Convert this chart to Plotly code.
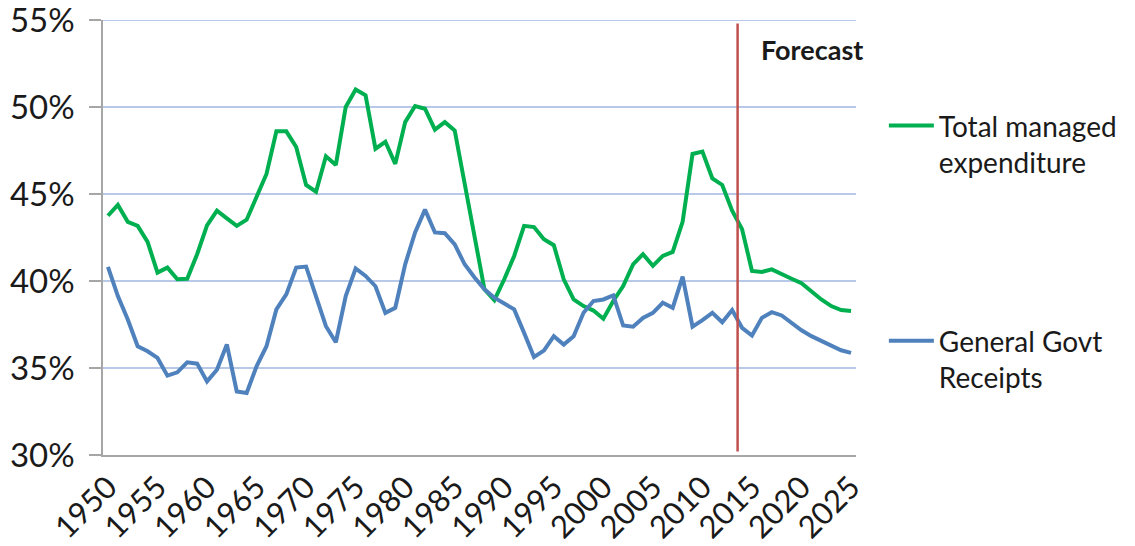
import plotly.graph_objects as go

years = list(range(1950, 2026))

# Total managed expenditure, % of GDP
total_managed_expenditure = [
    43.75, 44.37, 43.4, 43.17, 42.25, 40.48, 40.77, 40.1, 40.13, 41.54,
    43.2, 44.04, 43.6, 43.17, 43.52, 44.8, 46.15, 48.6, 48.6, 47.7,
    45.52, 45.13, 47.17, 46.67, 50.0, 51.0, 50.67, 47.6, 48.0, 46.73,
    49.13, 50.06, 49.9, 48.7, 49.13, 48.65, 45.6, 42.6, 39.52, 38.9,
    40.1, 41.44, 43.17, 43.1, 42.4, 42.06, 40.1, 38.94, 38.56, 38.3,
    37.83, 38.85, 39.71, 40.96, 41.54, 40.87, 41.44, 41.67, 43.4, 47.3,
    47.44, 45.9, 45.52, 44.04, 42.98, 40.58, 40.52, 40.67, 40.38, 40.13,
    39.87, 39.37, 38.94, 38.56, 38.33, 38.27,
]

# General government receipts, % of GDP
general_govt_receipts = [
    40.81, 39.13, 37.79, 36.25, 35.96, 35.58, 34.56, 34.75, 35.33, 35.25,
    34.23, 34.9, 36.35, 33.65, 33.56, 35.1, 36.25, 38.37, 39.23, 40.77,
    40.83, 39.13, 37.4, 36.48, 39.13, 40.72, 40.29, 39.7, 38.17, 38.46,
    40.96, 42.79, 44.1, 42.79, 42.75, 42.1, 40.96, 40.2, 39.52, 39.04,
    38.71, 38.37, 37.02, 35.63, 36.0, 36.83, 36.35, 36.83, 38.17, 38.85,
    38.94, 39.17, 37.44, 37.37, 37.88, 38.17, 38.75, 38.46, 40.25, 37.37,
    37.75, 38.17, 37.63, 38.33, 37.31, 36.87, 37.88, 38.21, 38.02, 37.6,
    37.17, 36.83, 36.54, 36.25, 36.02, 35.87,
]

forecast_start = 2013.55
tick_years = list(range(1950, 2026, 5))
y_ticks = [30, 35, 40, 45, 50, 55]

FONT = "Lato"
TEXT = "#1a1a1a"
GREEN = "#00b050"
BLUE = "#4f81bd"
GRID = "#b7c8e8"
AXIS = "#a6a6a6"

fig = go.Figure()

fig.add_trace(go.Scatter(
    x=years, y=total_managed_expenditure, mode="lines",
    name="Total managed<br>expenditure",
    line=dict(color=GREEN, width=4),
    legend="legend",
))
fig.add_trace(go.Scatter(
    x=years, y=general_govt_receipts, mode="lines",
    name="General Govt<br>Receipts",
    line=dict(color=BLUE, width=4),
    legend="legend2",
))

# top gridline sits on the plot edge, draw it explicitly
fig.add_shape(
    type="line", xref="paper", yref="y",
    x0=0, x1=1, y0=55, y1=55,
    line=dict(color=GRID, width=2), layer="below",
)

# vertical marker for the start of the forecast period
fig.add_shape(
    type="line", xref="x", yref="y",
    x0=forecast_start, x1=forecast_start, y0=30.2, y1=54.8,
    line=dict(color="#c0504d", width=2.5),
)
fig.add_annotation(
    x=2016.0, y=53.3, xref="x", yref="y",
    text="<b>Forecast</b>", showarrow=False,
    xanchor="left", yanchor="middle", xshift=-3,
    font=dict(family=FONT, size=27, color=TEXT),
)

legend_common = dict(
    bgcolor="rgba(0,0,0,0)",
    font=dict(family=FONT, size=28, color=TEXT),
    valign="top",
    itemwidth=45,
    tracegroupgap=0,
    xanchor="left", yanchor="top",
    visible=True,
)

fig.update_layout(
    template="none",
    width=1135, height=546,
    margin=dict(l=103, r=279, t=20, b=91),
    paper_bgcolor="white",
    plot_bgcolor="white",
    font=dict(family=FONT, color=TEXT),
    hovermode=False,
    showlegend=True,
    legend=dict(x=1.037, y=0.814, **legend_common),
    legend2=dict(x=1.037, y=0.3195, **legend_common),
    xaxis=dict(
        range=[1949.5, 2025.5],
        automargin=False,
        tickmode="array", tickvals=tick_years,
        ticktext=[str(y) for y in tick_years],
        tickangle=-45,
        tickfont=dict(family=FONT, size=31, color=TEXT),
        ticklabeloverflow="allow",
        showgrid=False, zeroline=False,
        showline=True, linecolor=AXIS, linewidth=1.5,
        ticks="",
    ),
    yaxis=dict(
        range=[30, 55],
        automargin=False,
        tickmode="array", tickvals=y_ticks,
        ticktext=[f"{v}%" for v in y_ticks],
        tickfont=dict(family=FONT, size=33, color=TEXT),
        ticklabeloverflow="allow",
        showgrid=True, gridcolor=GRID, gridwidth=2,
        zeroline=False,
        showline=True, linecolor=AXIS, linewidth=1.5,
        ticks="outside", ticklen=12, tickcolor=AXIS, tickwidth=1.5,
        ticklabelstandoff=8,
    ),
)

fig.write_html("out.html")
